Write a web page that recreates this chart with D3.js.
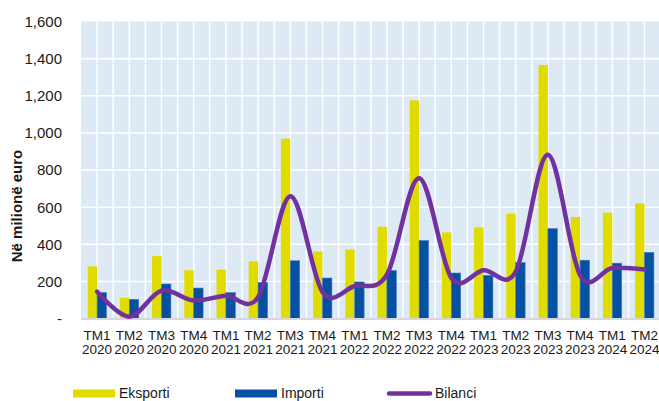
<!DOCTYPE html>
<html>
<head>
<meta charset="utf-8">
<script src="https://cdn.jsdelivr.net/npm/d3@7/dist/d3.min.js"></script>
<style>
  html, body { margin: 0; padding: 0; background: #ffffff; }
  svg { display: block; font-family: "Liberation Sans", Arial, sans-serif; }
</style>
</head>
<body>
<svg id="chart" width="659" height="401"></svg>
<script>
// Quarterly trade, in million euro
const quarters = ["TM1", "TM2", "TM3", "TM4", "TM1", "TM2", "TM3", "TM4", "TM1",
                  "TM2", "TM3", "TM4", "TM1", "TM2", "TM3", "TM4", "TM1", "TM2"];
const years = ["2020", "2020", "2020", "2020", "2021", "2021", "2021", "2021", "2022",
               "2022", "2022", "2022", "2023", "2023", "2023", "2023", "2024", "2024"];
const eksporti = [281, 112, 336, 260, 263, 308, 969, 361, 372, 494, 1175, 464, 491, 565, 1366, 547, 570, 620];
const importi  = [139, 103, 186, 164, 139, 193, 311, 218, 197, 258, 420, 245, 232, 301, 484, 314, 298, 356];
const bilanci  = [145, 10, 150, 97, 123, 115, 658, 143, 175, 236, 755, 219, 260, 252, 882, 233, 272, 264];
const yTicks = [0, 200, 400, 600, 800, 1000, 1200, 1400, 1600];
const seriesNames = ["Eksporti", "Importi", "Bilanci"];

const colors = { Eksporti: "#e1dc00", Importi: "#0650a2", Bilanci: "#7132a0" };

const svg = d3.select("#chart");
const plotLeft = 81, plotRight = 660.6, plotTop = 21.5, plotBottom = 318.5;

const keys = quarters.map((q, i) => i);
const x = d3.scaleBand().domain(keys).range([plotLeft, plotRight])
  .paddingInner(0.416).paddingOuter(0.208);
const xSub = d3.scaleBand().domain(["Eksporti", "Importi"]).range([0, x.bandwidth()]);
const y = d3.scaleLinear().domain([0, 1600]).range([plotBottom, plotTop]);
const xGrid = d3.scaleLinear().domain([0, keys.length]).range([plotLeft, plotRight]);

// plot background
svg.append("rect")
  .attr("x", plotLeft).attr("y", plotTop)
  .attr("width", plotRight - plotLeft).attr("height", plotBottom - plotTop)
  .attr("fill", "#dde9f5");

// gridlines: horizontal at each tick, vertical at band edges and centres
const g = svg.append("g");
g.selectAll("line.h").data(yTicks.slice(1, -1)).join("line")
  .attr("x1", plotLeft).attr("x2", plotRight)
  .attr("y1", d => y(d)).attr("y2", d => y(d))
  .attr("stroke", "#ffffff").attr("stroke-width", 1.5);
g.selectAll("line.v").data(d3.range(1, keys.length * 2)).join("line")
  .attr("x1", d => xGrid(d / 2)).attr("x2", d => xGrid(d / 2))
  .attr("y1", plotTop).attr("y2", plotBottom)
  .attr("stroke", "#ffffff").attr("stroke-width", 1.5);

// bars
const bars = svg.append("g");
bars.selectAll("rect.eks").data(keys).join("rect")
  .attr("x", i => x(i) + xSub("Eksporti"))
  .attr("y", i => y(eksporti[i]))
  .attr("width", xSub.bandwidth())
  .attr("height", i => y(0) - y(eksporti[i]))
  .attr("fill", colors.Eksporti);
bars.selectAll("rect.imp").data(keys).join("rect")
  .attr("x", i => x(i) + xSub("Importi"))
  .attr("y", i => y(importi[i]))
  .attr("width", xSub.bandwidth())
  .attr("height", i => y(0) - y(importi[i]))
  .attr("fill", colors.Importi)
  .attr("stroke", "#3f78bd").attr("stroke-width", 0.6);

// baseline
svg.append("line")
  .attr("x1", plotLeft).attr("x2", plotRight)
  .attr("y1", y(0) + 0.5).attr("y2", y(0) + 0.5)
  .attr("stroke", "#d4d8dc").attr("stroke-width", 2);

// smoothed balance line
const line = d3.line()
  .x(i => x(i) + x.bandwidth() / 2)
  .y(i => y(bilanci[i]))
  .curve(d3.curveCardinal.tension(0));
svg.append("path")
  .datum(keys)
  .attr("d", line)
  .attr("fill", "none")
  .attr("stroke", colors.Bilanci)
  .attr("stroke-width", 4.5)
  .attr("stroke-linecap", "round")
  .attr("stroke-linejoin", "round");

// y axis labels
const fmt = d3.format(",");
svg.append("g").selectAll("text").data(yTicks).join("text")
  .attr("x", 62).attr("y", d => y(d))
  .attr("dy", "0.36em")
  .attr("text-anchor", "end")
  .attr("font-size", 15)
  .attr("fill", "#1a1a1a")
  .text(d => d === 0 ? "-" : fmt(d));

// y axis title
svg.append("text")
  .attr("transform", "translate(21.5,206) rotate(-90)")
  .attr("text-anchor", "middle")
  .attr("font-size", 15)
  .attr("font-weight", "bold")
  .attr("fill", "#1a1a1a")
  .text("Në milionë euro");

// x axis labels (two lines)
const xl = svg.append("g").selectAll("text").data(keys).join("text")
  .attr("text-anchor", "middle")
  .attr("font-size", 13.5)
  .attr("fill", "#1a1a1a");
xl.append("tspan")
  .attr("x", i => x(i) + x.bandwidth() / 2).attr("y", 340)
  .text(i => quarters[i]);
xl.append("tspan")
  .attr("x", i => x(i) + x.bandwidth() / 2).attr("y", 354)
  .text(i => years[i]);

// legend
const legend = svg.append("g");
const legendItems = [
  { name: seriesNames[0], x: 73, type: "rect" },
  { name: seriesNames[1], x: 235, type: "rect" },
  { name: seriesNames[2], x: 389, type: "line" }
];
legendItems.forEach(it => {
  if (it.type === "rect") {
    legend.append("rect")
      .attr("x", it.x).attr("y", 389.5)
      .attr("width", 42).attr("height", 8)
      .attr("fill", colors[it.name]);
  } else {
    legend.append("line")
      .attr("x1", it.x).attr("x2", it.x + 41)
      .attr("y1", 393.5).attr("y2", 393.5)
      .attr("stroke", colors[it.name])
      .attr("stroke-width", 4.5)
      .attr("stroke-linecap", "round");
  }
  legend.append("text")
    .attr("x", it.x + 46).attr("y", 398)
    .attr("font-size", 14)
    .attr("fill", "#1a1a1a")
    .text(it.name);
});
</script>
</body>
</html>
